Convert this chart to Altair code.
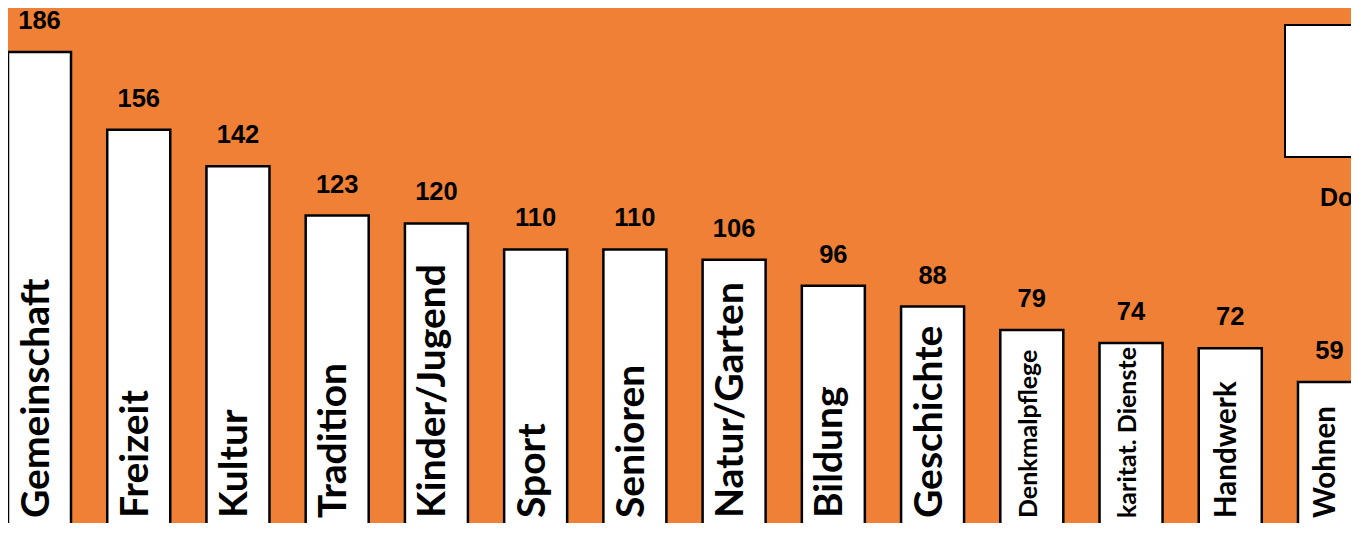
import altair as alt
import pandas as pd

categories = ["Gemeinschaft", "Freizeit", "Kultur", "Tradition", "Kinder/Jugend",
              "Sport", "Senioren", "Natur/Garten", "Bildung", "Geschichte",
              "Denkmalpflege", "karitat. Dienste", "Handwerk", "Wohnen"]
values = [186, 156, 142, 123, 120, 110, 110, 106, 96, 88, 79, 74, 72, 59]

big_labels = ["Gemeinschaft", "Freizeit", "Kultur", "Tradition", "Kinder/Jugend",
              "Sport", "Senioren", "Natur/Garten", "Bildung", "Geschichte"]
medium_labels = ["Handwerk", "Wohnen"]
small_labels = ["Denkmalpflege", "karitat. Dienste"]
side_label = "Dorf"

df = pd.DataFrame({"Kategorie": categories, "Anzahl": values})

ORANGE = "#F08036"

x = alt.X("Kategorie:N", sort=categories,
          scale=alt.Scale(domain=categories, range=[0, 1353],
                          paddingInner=0.365, paddingOuter=0),
          axis=None)
y = alt.Y("Anzahl:Q", scale=alt.Scale(domain=[4.7, 202.9], nice=False, zero=False),
          axis=None)

base = alt.Chart(df)

bars = base.mark_bar(fill="white", stroke="black", strokeWidth=2.5, clip=True).encode(
    x=x, y=y, y2=alt.datum(0))

value_text = base.mark_text(font="Liberation Sans", fontWeight="bold", fontSize=25.5,
                            baseline="alphabetic", dy=-23, color="black").encode(
    x=x, y=y, text="Anzahl:Q")


def cat_labels(names, size, dy):
    return base.transform_filter(
        alt.FieldOneOfPredicate(field="Kategorie", oneOf=names)
    ).mark_text(angle=270, align="left", baseline="alphabetic", dy=dy,
                font="Lato", fontWeight="bold", fontSize=size, color="black").encode(
        x=x, y=alt.value(510), text="Kategorie:N")


lab_big = cat_labels(big_labels, 39, 9)
lab_med = cat_labels(medium_labels, 29.5, 6)
lab_small = cat_labels(small_labels, 25, 5)

side = alt.Chart(pd.DataFrame({"t": [side_label]}))
box = side.mark_rect(fill="white", stroke="black", strokeWidth=2).encode(
    x=alt.value(1277), x2=alt.value(1420), y=alt.value(17), y2=alt.value(149))
side_text = side.mark_text(align="left", baseline="middle", font="Liberation Sans",
                           fontWeight="bold", fontSize=25, color="black").encode(
    x=alt.value(1312), y=alt.value(190), text="t:N")

chart = alt.layer(bars, value_text, lab_big, lab_med, lab_small, box, side_text).properties(
    width=1343, height=515, background=ORANGE, padding=0,
    autosize=alt.AutoSizeParams(type="none")
).configure_view(stroke=None, strokeWidth=0)

chart.save("out.html", embed_options={"renderer": "svg", "actions": False})
